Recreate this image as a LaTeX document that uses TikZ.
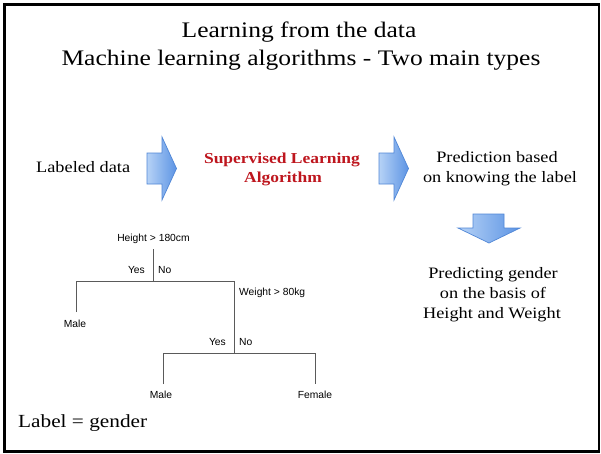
\documentclass[tikz,border=0pt]{standalone}
\usepackage{fontspec}
\setmainfont{Liberation Serif}[FakeStretch=1.15]
\setsansfont{Liberation Sans}
\definecolor{algored}{RGB}{190,22,30}
\definecolor{arrowedge}{RGB}{80,135,215}
\definecolor{arrowlight}{RGB}{182,210,246}
\definecolor{arrowdark}{RGB}{92,148,228}
\definecolor{treeline}{RGB}{90,90,90}
\begin{document}
\begin{tikzpicture}[x=1pt,y=-1pt,
  titletext/.style={inner sep=0pt,anchor=base,font=\fontsize{22.2}{26}\selectfont},
  bodytext/.style={inner sep=0pt,anchor=base,font=\fontsize{15.9}{19}\selectfont},
  algotext/.style={inner sep=0pt,anchor=base,text=algored,font=\fontsize{15.2}{18}\selectfont\bfseries},
  treetext/.style={inner sep=0pt,font=\sffamily\fontsize{10.3}{12}\selectfont},
  branch/.style={draw=treeline,line width=0.8pt},
  blockarrow/.style={draw=arrowedge,line width=0.7pt,left color=arrowlight,right color=arrowdark,line join=miter}
]
\useasboundingbox (0,0) rectangle (601,453);
\fill[white] (0,0) rectangle (601,453);
\draw[line width=2.6pt] (4.5,4.5) rectangle (599,451.5);

% heading
\node[titletext] (title1) at (299,37) {Learning from the data};
\node[titletext] (title2) at (301,65) {Machine learning algorithms - Two main types};

% top row: data -> algorithm -> prediction
\node[bodytext,anchor=base west] (data) at (36,172) {Labeled data};
\node[algotext] (algo1) at (282,163) {Supervised Learning};
\node[algotext] (algo2) at (283,182) {Algorithm};
\node[bodytext] (pred1) at (497,162) {Prediction based};
\node[bodytext] (pred2) at (500,182) {on knowing the label};

% block arrows
\path[blockarrow] (147,153) -- (162,153) -- (162,137) -- (176.5,168.5) -- (162,200) -- (162,184) -- (147,184) -- cycle;
\path[blockarrow] (379,153) -- (394,153) -- (394,137) -- (408.5,168.5) -- (394,200) -- (394,184) -- (379,184) -- cycle;
\path[blockarrow] (473,214) -- (504,214) -- (504,228) -- (520,228) -- (489,243) -- (458,228) -- (473,228) -- cycle;

% result text
\node[bodytext] (res1) at (493,278) {Predicting gender};
\node[bodytext] (res2) at (493,298) {on the basis of};
\node[bodytext] (res3) at (492,318) {Height and Weight};

% decision tree
\node[treetext,anchor=base] (root) at (153.5,241) {Height > 180cm};
\coordinate (rootbot) at (153.7,249);
\coordinate (split1) at (153.7,281);
\coordinate (lefttop) at (76,281);
\coordinate (leftbot) at (76,312);
\coordinate (righttop) at (234,281);
\coordinate (split2) at (234,353);
\coordinate (l2top) at (163,353);
\coordinate (l2bot) at (163,384);
\coordinate (r2top) at (315,353);
\coordinate (r2bot) at (315,384);

\draw[branch] (rootbot) -- (split1);
\draw[branch] (leftbot) -- (lefttop) -- (righttop) -- (split2);
\draw[branch] (l2bot) -- (l2top) -- (r2top) -- (r2bot);

\node[treetext,anchor=base east] (yes1) at (145,273) {Yes};
\node[treetext,anchor=base west] (no1) at (158,273) {No};
\node[treetext,anchor=base] (male1) at (75,327) {Male};
\node[treetext,anchor=base west] (weight) at (239,295) {Weight > 80kg};
\node[treetext,anchor=base east] (yes2) at (226,345) {Yes};
\node[treetext,anchor=base west] (no2) at (239,345) {No};
\node[treetext,anchor=base] (male2) at (161,398) {Male};
\node[treetext,anchor=base] (female) at (315,398) {Female};

% footer
\node[inner sep=0pt,anchor=base west,font=\fontsize{18.5}{23}\selectfont] (lbl) at (18,427) {Label = gender};
\end{tikzpicture}
\end{document}
